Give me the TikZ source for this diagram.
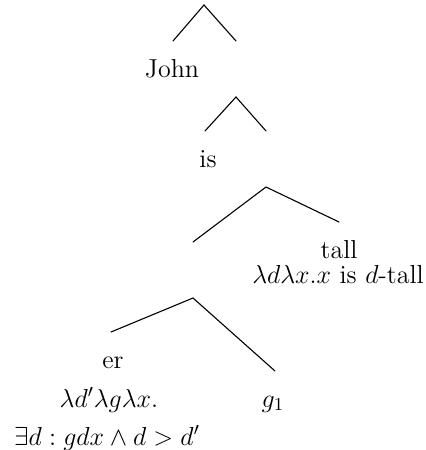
\RequirePackage{fix-cm}
\documentclass[tikz,border=0pt]{standalone}
\begin{document}
\begin{tikzpicture}[x=0.5pt,y=-0.5pt,
  lbl/.style={anchor=base, inner sep=0pt, font=\fontsize{13}{15}\selectfont},
  branch/.style={line width=0.55pt, line cap=round}]
\useasboundingbox (0,0) rectangle (426,450);
% branching points and branch ends
\coordinate (n0) at (204,5);
\coordinate (n0l) at (173,41);
\coordinate (n1) at (236,41);
\coordinate (n1top) at (236,97);
\coordinate (n1l) at (205,131);
\coordinate (n2) at (266,131);
\coordinate (n2top) at (266,187);
\coordinate (n2r) at (339,222);
\coordinate (n3) at (193,242);
\coordinate (n3top) at (193,298);
\coordinate (n3l) at (111,332);
\coordinate (n3r) at (275,371);
% labels
\node[lbl] (john) at (172,77) {John};
\node[lbl] (is) at (208,167) {is};
\node[lbl] (tall) at (339,258) {tall};
\node[lbl] (tallsem) at (338,283) {$\lambda d\lambda x.x$ is $d$-tall};
\node[lbl] (er) at (113,368) {er};
\node[lbl] (ersemA) at (109,407) {$\lambda d'\lambda g\lambda x.$};
\node[lbl] (ersemB) at (107,445) {$\exists d : gdx \wedge d > d'$};
\node[lbl] (gone) at (273,407) {$g_1$};
% branches
\draw[branch] (n0l) -- (n0) -- (n1);
\draw[branch] (n1l) -- (n1top) -- (n2);
\draw[branch] (n3) -- (n2top) -- (n2r);
\draw[branch] (n3l) -- (n3top) -- (n3r);
\end{tikzpicture}
\end{document}
